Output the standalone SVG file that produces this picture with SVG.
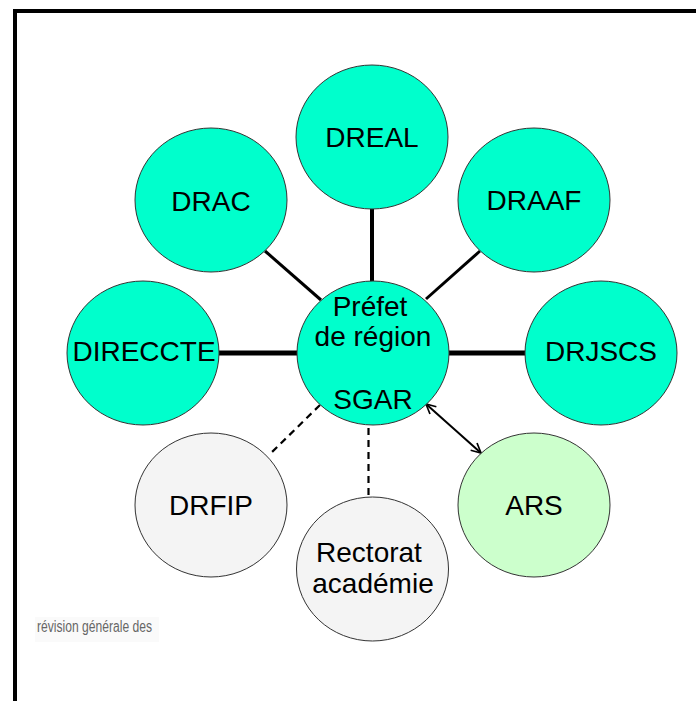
<svg xmlns="http://www.w3.org/2000/svg" width="696" height="701" viewBox="0 0 696 701">
<style>
.n{stroke:#333;stroke-width:1}
.t{fill:#00FFCC}
.g{fill:#F4F4F4}
.a{fill:#CCFFCC}
text{font-family:"Liberation Sans",Arial,sans-serif;font-size:28px;fill:#000;text-anchor:middle}
.c{stroke:#000;fill:none}
.d{stroke-dasharray:7,5;stroke-width:2.2}
</style>
<defs>
<marker id="ah" viewBox="0 0 10 10" refX="9" refY="5" markerWidth="6" markerHeight="6" orient="auto-start-reverse" markerUnits="strokeWidth">
<path d="M1,1 L9,5 L1,9" fill="none" stroke="#000" stroke-width="1.4"/>
</marker>
</defs>
<rect x="0" y="0" width="696" height="701" fill="#fff"/>
<rect x="15" y="11" width="720" height="720" fill="none" stroke="#000" stroke-width="4"/>
<g id="connectors">
<line class="c" x1="372" y1="209" x2="372" y2="282" stroke-width="4"/>
<line class="c" x1="265" y1="251" x2="321" y2="300" stroke-width="3"/>
<line class="c" x1="480" y1="251" x2="426" y2="299" stroke-width="3"/>
<line class="c" x1="219" y1="353" x2="297" y2="353" stroke-width="5"/>
<line class="c" x1="449" y1="353" x2="525" y2="353" stroke-width="5"/>
<line class="c d" x1="320" y1="405" x2="270" y2="454"/>
<line class="c d" x1="368.5" y1="428" x2="368.5" y2="497"/>
<line class="c" x1="426" y1="404" x2="481" y2="453" stroke-width="2" marker-start="url(#ah)" marker-end="url(#ah)"/>
</g>
<g id="dreal"><ellipse class="n t" cx="372" cy="137" rx="76" ry="72"/><text x="372" y="147">DREAL</text></g>
<g id="drac"><ellipse class="n t" cx="211" cy="200" rx="76" ry="72"/><text x="211" y="211">DRAC</text></g>
<g id="draaf"><ellipse class="n t" cx="534" cy="200" rx="76" ry="72"/><text x="534" y="210">DRAAF</text></g>
<g id="direccte"><ellipse class="n t" cx="143" cy="353" rx="76" ry="72"/><text x="144" y="361">DIRECCTE</text></g>
<g id="drjscs"><ellipse class="n t" cx="601" cy="353" rx="76" ry="72"/><text x="601" y="361">DRJSCS</text></g>
<g id="prefet"><ellipse class="n t" cx="373" cy="353" rx="76" ry="72"/><text x="370" y="316">Préfet</text><text x="373" y="346">de région</text><text x="373" y="409">SGAR</text></g>
<g id="drfip"><ellipse class="n g" cx="211" cy="505" rx="76" ry="72"/><text x="211" y="515">DRFIP</text></g>
<g id="rectorat"><ellipse class="n g" cx="372.5" cy="569" rx="76" ry="72"/><text x="369" y="562">Rectorat</text><text x="373" y="593">académie</text></g>
<g id="ars"><ellipse class="n a" cx="534" cy="505" rx="76" ry="72"/><text x="534" y="515">ARS</text></g>
<g id="logo"><rect x="35" y="617" width="124" height="25" fill="#FAFAFA"/><text x="37" y="632" style="font-size:16px;fill:#666;text-anchor:start" textLength="115" lengthAdjust="spacingAndGlyphs">révision générale des</text></g>
</svg>
